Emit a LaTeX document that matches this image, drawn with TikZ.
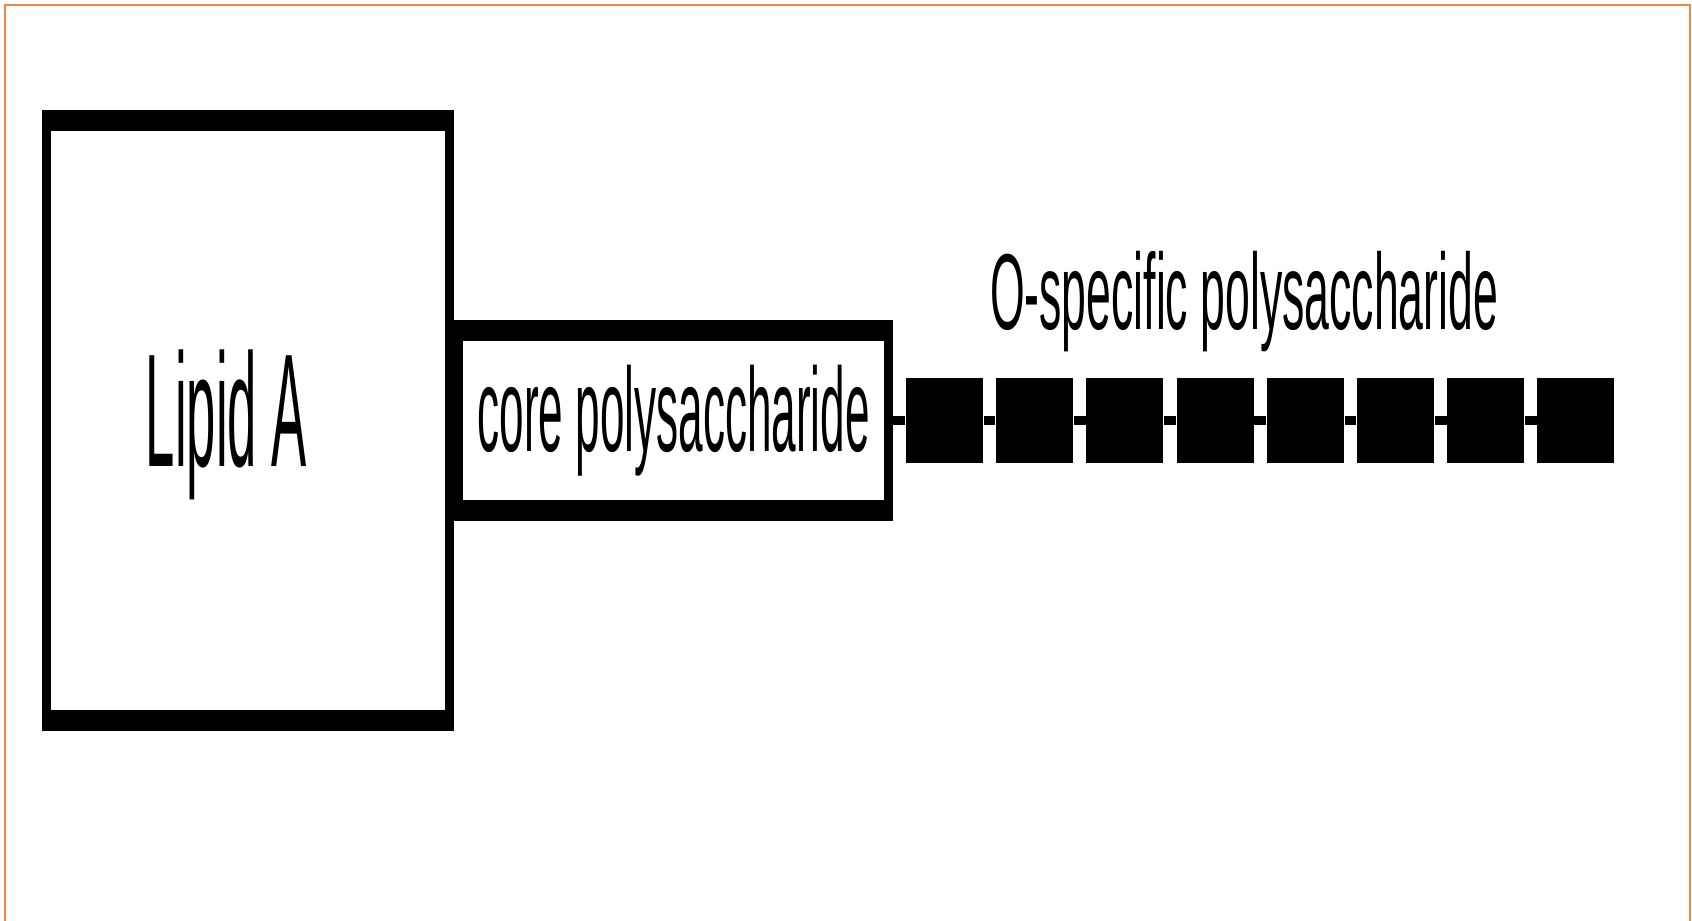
\documentclass[tikz,border=0pt]{standalone}
\usepackage{fontspec}
\setmainfont{Liberation Sans}
\usepackage{graphicx}
\usepackage{xcolor}
\usepackage{tikz}
\usetikzlibrary{positioning,calc}
\definecolor{frameorange}{RGB}{245,135,60}
\newcommand{\narrow}[2]{\scalebox{#1}[1]{#2}}

\begin{document}
\begin{tikzpicture}[
    x=0.01cm, y=-0.01cm,
    frame/.style={rectangle, draw=black, line width=0.9mm, inner sep=0pt,
        path picture={
            \fill (path picture bounding box.north west) rectangle ([yshift=-1.65mm]path picture bounding box.north east);
            \fill (path picture bounding box.south west) rectangle ([yshift=1.65mm]path picture bounding box.south east);
        }},
    sugar/.style={rectangle, fill=black, inner sep=0pt, minimum width=0.77cm, minimum height=0.84cm},
    link/.style={draw=black, line width=0.95mm},
    lbl/.style={inner sep=0pt, text=black}
]
    \useasboundingbox (0,0) rectangle (1692,920);
    \draw [frameorange, line width=0.2mm] (5,930) -- (5,5) -- (1690,5) -- (1690,930);

    % lipid A and core
    \node [frame, minimum width=4.03cm, minimum height=6.12cm] (lipid) at (248,420.5) {};
    \node [lbl, font=\fontsize{45.8}{52}\selectfont] (lipidlabel) at (226.5,425) {\narrow{0.327}{Lipid A}};
    \node [frame, anchor=west, minimum width=4.30cm, minimum height=1.91cm, font=\fontsize{33.9}{40}\selectfont] (core) at (lipid.east) {\narrow{0.37}{core polysaccharide}};

    % O-antigen chain
    \foreach \i in {0,...,7}
        \node [sugar] (s\i) at (944.5+90.2*\i,420.5) {};
    \draw [link] (core.east) -- (s0.west);
    \foreach \i [count=\j] in {0,...,6}
        \draw [link] (s\i.east) -- (s\j.west);
    \node [lbl, font=\fontsize{30.7}{36}\selectfont] (olabel) at (1244,302) {\narrow{0.413}{O-specific polysaccharide}};
\end{tikzpicture}
\end{document}
